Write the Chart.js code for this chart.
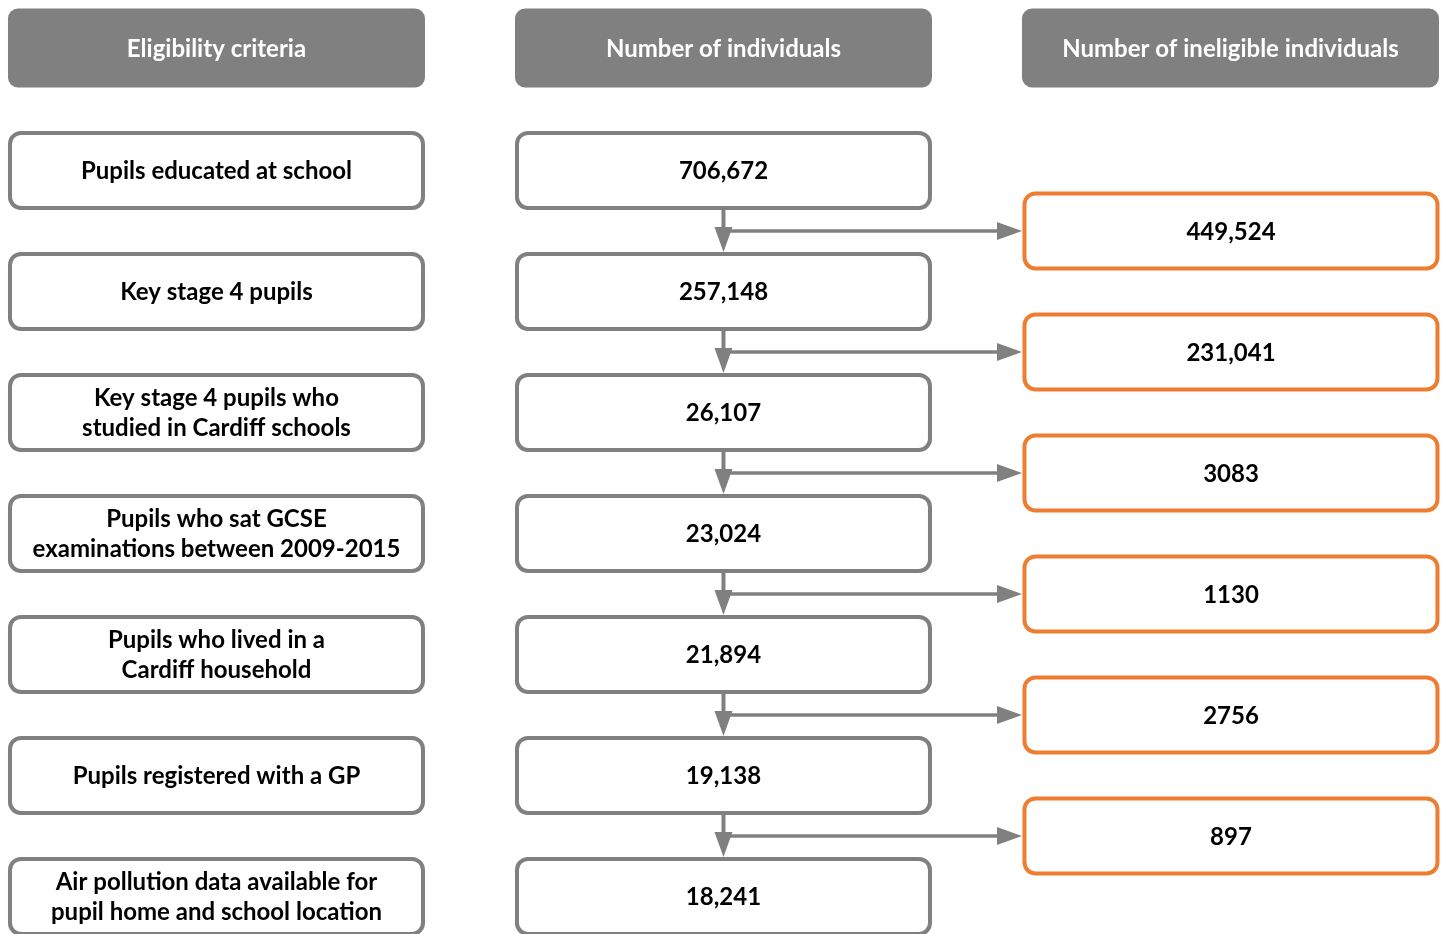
<!DOCTYPE html>
<html>
<head>
<meta charset="utf-8">
<script src="https://cdn.jsdelivr.net/npm/chart.js@4.4.1/dist/chart.umd.min.js"></script>
<style>
  html, body { margin: 0; padding: 0; background: #fff; }
  #wrap { width: 1450px; height: 934px; position: relative; }
</style>
</head>
<body>
<div id="wrap"><canvas id="flow"></canvas></div>
<script>
// column headers
var headers = ["Eligibility criteria", "Number of individuals", "Number of ineligible individuals"];

// eligibility criteria, one row each (line breaks as in the figure)
var criteria = [
	["Pupils educated at school"],
	["Key stage 4 pupils"],
	["Key stage 4 pupils who", "studied in Cardiff schools"],
	["Pupils who sat GCSE", "examinations between 2009-2015"],
	["Pupils who lived in a", "Cardiff household"],
	["Pupils registered with a GP"],
	["Air pollution data available for", "pupil home and school location"]
];

// individuals left after each step
var counts = [706672, 257148, 26107, 23024, 21894, 19138, 18241];

// individuals removed between steps
var ineligible = [449524, 231041, 3083, 1130, 2756, 897];

var grey = "#808080";
var orange = "#ED7D31";
var fontName = "Lato";

function fmt(n) {
	return n >= 10000 ? n.toLocaleString("en-GB") : String(n);
}

// box size in scale units (x: one column, y: one row)
var boxW = 0.4073, boxH = 0.31;

var flowPlugin = {
	id: "flow",
	afterDatasetsDraw: function (chart) {
		var ctx = chart.ctx;
		var xs = chart.scales.x, ys = chart.scales.y;
		function px(v) { return xs.getPixelForValue(v); }
		function py(v) { return ys.getPixelForValue(v); }

		function box(col, row, lines, opts) {
			var grow = opts.grow || 0;
			var x0 = px(col - boxW) - grow, x1 = px(col + boxW) + grow;
			var y0 = py(row - boxH) - grow, y1 = py(row + boxH) + grow;
			ctx.save();
			ctx.beginPath();
			ctx.roundRect(x0, y0, x1 - x0, y1 - y0, opts.radius);
			if (opts.fill) { ctx.fillStyle = opts.fill; ctx.fill(); }
			if (opts.stroke) { ctx.lineWidth = 4; ctx.strokeStyle = opts.stroke; ctx.stroke(); }
			ctx.fillStyle = opts.textColor;
			ctx.font = "bold 24px " + fontName;
			ctx.textAlign = "center";
			ctx.textBaseline = "middle";
			var cx = (x0 + x1) / 2, cy = (y0 + y1) / 2 + 1;
			var lh = 30;
			for (var i = 0; i < lines.length; i++) {
				ctx.fillText(lines[i], cx, cy + (i - (lines.length - 1) / 2) * lh);
			}
			ctx.restore();
		}

		function arrowHead(tx, ty, dir) {
			var len = 25, half = 9;
			ctx.beginPath();
			if (dir === "down") {
				ctx.moveTo(tx, ty);
				ctx.lineTo(tx - half, ty - len);
				ctx.lineTo(tx + half, ty - len);
			} else {
				ctx.moveTo(tx, ty);
				ctx.lineTo(tx - len, ty - half);
				ctx.lineTo(tx - len, ty + half);
			}
			ctx.closePath();
			ctx.fill();
		}

		// headers
		for (var c = 0; c < headers.length; c++) {
			box(c, -0.012, [headers[c]], { fill: grey, radius: 10, textColor: "#fff", grow: 2 });
		}

		// arrows between rows
		ctx.save();
		ctx.strokeStyle = grey;
		ctx.fillStyle = grey;
		for (var r = 0; r < ineligible.length; r++) {
			var ax = px(1);
			var top = py(r + 1 + boxH) + 2;
			var bottom = py(r + 2 - boxH) - 2;
			var midY = py(r + 1.5);
			ctx.lineWidth = 4;
			ctx.beginPath();
			ctx.moveTo(ax, top);
			ctx.lineTo(ax, bottom - 20);
			ctx.stroke();
			arrowHead(ax, bottom, "down");

			var endX = px(2 - boxW) - 2;
			ctx.lineWidth = 3.5;
			ctx.beginPath();
			ctx.moveTo(ax, midY);
			ctx.lineTo(endX - 20, midY);
			ctx.stroke();
			arrowHead(endX, midY, "right");
		}
		ctx.restore();

		// criteria and counts
		for (var i = 0; i < criteria.length; i++) {
			box(0, i + 1, criteria[i], { fill: "#fff", stroke: grey, radius: 11, textColor: "#000" });
			box(1, i + 1, [fmt(counts[i])], { fill: "#fff", stroke: grey, radius: 11, textColor: "#000" });
		}
		for (var k = 0; k < ineligible.length; k++) {
			box(2.001, k + 1.5, [fmt(ineligible[k])], { fill: "#fff", stroke: orange, radius: 11, textColor: "#000" });
		}
	}
};

// invisible anchor points at the box centres so the scales follow the data
var anchors = [];
for (var i = 0; i < counts.length; i++) {
	anchors.push({ x: 0, y: i + 1 });
	anchors.push({ x: 1, y: i + 1 });
}
for (var j = 0; j < ineligible.length; j++) {
	anchors.push({ x: 2, y: j + 1.5 });
}

var chart = new Chart(document.getElementById("flow"), {
	type: "scatter",
	data: {
		datasets: [{ data: anchors, pointRadius: 0, pointHoverRadius: 0 }]
	},
	options: {
		responsive: true,
		maintainAspectRatio: false,
		animation: false,
		layout: { padding: 0 },
		plugins: { legend: { display: false }, tooltip: { enabled: false } },
		scales: {
			x: { type: "linear", min: -0.427, max: 2.433, display: false },
			y: { type: "linear", min: -0.409, max: 7.31, reverse: true, display: false }
		}
	},
	plugins: [flowPlugin]
});
</script>
</body>
</html>
